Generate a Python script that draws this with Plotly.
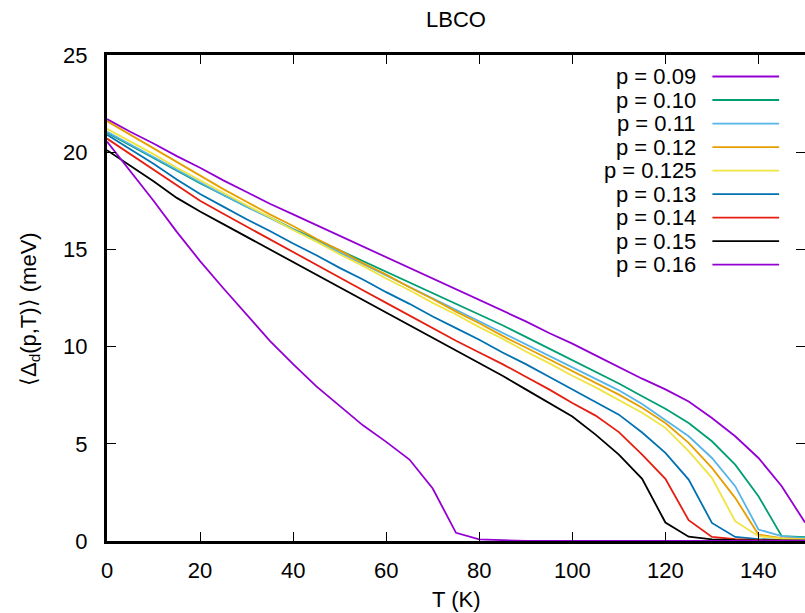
import plotly.graph_objects as go

# ---------------- data ----------------
temps = [0, 5, 10, 15, 20, 25, 30, 35, 40, 45, 50, 55, 60, 65, 70, 75,
         80, 85, 90, 95, 100, 105, 110, 115, 120, 125, 130, 135, 140, 145, 150]

labels = ["p = 0.09", "p = 0.10", "p = 0.11", "p = 0.12", "p = 0.125",
          "p = 0.13", "p = 0.14", "p = 0.15", "p = 0.16"]

colors = ["#9400d3", "#009e73", "#56b4e9", "#e69f00", "#f0e442",
          "#0072b2", "#e51e10", "#000000", "#9400d3"]

gap_p009 = [21.7, 21.05, 20.45, 19.8, 19.2, 18.55, 17.95, 17.35, 16.8, 16.25, 15.7,
            15.15, 14.6, 14.05, 13.5, 12.95, 12.4, 11.85, 11.3, 10.7, 10.15, 9.55,
            8.95, 8.35, 7.8, 7.18, 6.33, 5.39, 4.27, 2.82, 0.95]
gap_p010 = [21.0, 20.35, 19.7, 19.05, 18.4, 17.8, 17.2, 16.65, 16.05, 15.5, 14.95,
            14.4, 13.85, 13.3, 12.75, 12.2, 11.65, 11.1, 10.5, 9.9, 9.3, 8.7,
            8.1, 7.45, 6.8, 6.07, 5.13, 3.93, 2.3, 0.25, 0.2]
gap_p011 = [21.05, 20.4, 19.75, 19.1, 18.45, 17.8, 17.2, 16.6, 16.02, 15.43, 14.84,
            14.25, 13.66, 13.07, 12.48, 11.89, 11.3, 10.7, 10.1, 9.52, 8.93, 8.34,
            7.75, 7.05, 6.24, 5.39, 4.27, 2.82, 0.59, 0.25, 0.15]
gap_p012 = [21.6, 20.9, 20.2, 19.5, 18.8, 18.1, 17.45, 16.8, 16.2, 15.55, 14.95,
            14.3, 13.7, 13.05, 12.45, 11.8, 11.2, 10.55, 9.95, 9.35, 8.75, 8.15,
            7.53, 6.85, 6.07, 5.05, 3.76, 2.22, 0.33, 0.15, 0.1]
gap_p0125 = [21.2, 20.55, 19.9, 19.2, 18.55, 17.9, 17.27, 16.65, 16.0, 15.4, 14.75,
             14.15, 13.5, 12.9, 12.25, 11.65, 11.0, 10.4, 9.75, 9.15, 8.5, 7.9,
             7.27, 6.6, 5.82, 4.62, 3.25, 1.02, 0.25, 0.12, 0.08]
gap_p013 = [20.9, 20.15, 19.4, 18.6, 17.85, 17.2, 16.55, 15.95, 15.3, 14.7, 14.05,
            13.45, 12.8, 12.2, 11.55, 10.95, 10.35, 9.7, 9.1, 8.45, 7.8, 7.15,
            6.5, 5.58, 4.53, 3.16, 0.93, 0.21, 0.1, 0.05, 0.03]
gap_p014 = [20.7, 19.9, 19.1, 18.3, 17.5, 16.83, 16.17, 15.5, 14.85, 14.2, 13.55,
            12.9, 12.25, 11.6, 10.95, 10.3, 9.7, 9.1, 8.45, 7.8, 7.1, 6.45,
            5.6, 4.44, 3.2, 1.07, 0.21, 0.1, 0.05, 0.03, 0.02]
gap_p015 = [20.1, 19.3, 18.5, 17.65, 16.95, 16.3, 15.65, 15.0, 14.35, 13.7, 13.05,
            12.4, 11.75, 11.1, 10.45, 9.8, 9.15, 8.5, 7.8, 7.1, 6.4, 5.47,
            4.44, 3.2, 0.95, 0.22, 0.08, 0.04, 0.02, 0.01, 0.0]
gap_p016 = [20.55, 19.05, 17.5, 15.9, 14.4, 13.0, 11.65, 10.3, 9.1, 7.95, 6.95,
            5.95, 5.1, 4.19, 2.7, 0.42, 0.08, 0.03, 0.01, 0.0, 0.0, 0.0,
            0.0, 0.0, 0.0, 0.0, 0.0, 0.0, 0.0, 0.0, 0.0]

series = [gap_p009, gap_p010, gap_p011, gap_p012, gap_p0125,
          gap_p013, gap_p014, gap_p015, gap_p016]

x_ticks = [0, 20, 40, 60, 80, 100, 120, 140]
y_ticks = [0, 5, 10, 15, 20, 25]

# ---------------- layout geometry (pixels) ----------------
W, H = 815, 613
L, R, T, B = 107, 808, 55, 541.5
FONT = "Liberation Sans, Arial, Helvetica, sans-serif"
FS = 22


def px_x(px):
    return (px - L) / (R - L)


def px_y(py):
    return (B - py) / (B - T)


fig = go.Figure()
for lab, col, ys in zip(labels, colors, series):
    fig.add_trace(go.Scatter(x=temps, y=ys, mode="lines", name=lab,
                             line=dict(color=col, width=1.8),
                             showlegend=False, hoverinfo="skip"))

# gnuplot-style key: right-aligned text, sample line to the right
shapes = []
annotations = []
row0, drow = 76.5, 23.55
for i, (lab, col) in enumerate(zip(labels, colors)):
    yy = row0 + i * drow
    annotations.append(dict(text=lab, x=px_x(701), y=px_y(yy), xref="paper", yref="paper",
                            xanchor="right", yanchor="middle", showarrow=False,
                            font=dict(family=FONT, size=FS, color="#000000")))
    shapes.append(dict(type="line", xref="paper", yref="paper",
                       x0=px_x(715), x1=px_x(782), y0=px_y(yy), y1=px_y(yy),
                       line=dict(color=col, width=1.8)))

# axis titles
annotations.append(dict(text="T (K)", x=0.5, y=px_y(600), xref="paper", yref="paper",
                        xanchor="center", yanchor="middle", showarrow=False,
                        font=dict(family=FONT, size=FS, color="#000000")))
annotations.append(dict(text="\u27e8\u0394<sub>d</sub>(p,T)\u27e9 (meV)", x=px_x(29), y=px_y(309),
                        xref="paper", yref="paper", textangle=-90,
                        xanchor="center", yanchor="middle", showarrow=False,
                        font=dict(family=FONT, size=FS, color="#000000")))
annotations.append(dict(text="LBCO", x=0.5, y=px_y(19), xref="paper", yref="paper",
                        xanchor="center", yanchor="middle", showarrow=False,
                        font=dict(family=FONT, size=FS, color="#000000")))

axis_common = dict(showgrid=False, zeroline=False, showline=True, linecolor="#000000",
                   linewidth=3, mirror="ticks", ticks="inside", ticklen=9, tickwidth=1.3,
                   tickcolor="#000000",
                   tickfont=dict(family=FONT, size=FS, color="#000000"))

fig.update_layout(
    width=W, height=H,
    margin=dict(l=L, r=W - R, t=T, b=H - B, pad=0),
    paper_bgcolor="#ffffff", plot_bgcolor="#ffffff",
    shapes=shapes, annotations=annotations,
    xaxis=dict(range=[0, 150], tickvals=x_ticks, ticklabelstandoff=8, **axis_common),
    yaxis=dict(range=[0, 25], tickvals=y_ticks, ticklabelstandoff=12, **axis_common),
)

fig.write_html("out.html",
               post_script="document.documentElement.style.overflow='hidden';document.body.style.overflow='hidden';document.body.style.margin='0';")
